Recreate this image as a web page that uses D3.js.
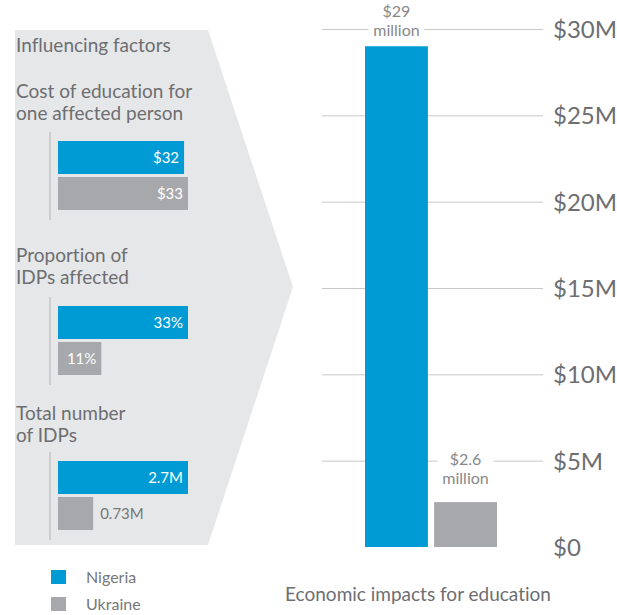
<!DOCTYPE html>
<html>
<head>
<meta charset="utf-8">
<script src="https://cdn.jsdelivr.net/npm/d3@7"></script>
<style>
  body { margin: 0; background: #fff; }
  text { font-family: Lato, "Open Sans", sans-serif; font-variant-ligatures: none; }
</style>
</head>
<body>
<div id="chart"></div>
<script>
// data
const countries = ["Nigeria", "Ukraine"];
const colors = ["#009bd4", "#a7a8ab"];

const factorTitles = [
    ["Cost of education for", "one affected person"],
    ["Proportion of", "IDPs affected"],
    ["Total number", "of IDPs"]
];
const factorValues = [
    [32, 33],
    [33, 11],
    [2.7, 0.73]
];
const factorLabels = [
    ["$32", "$33"],
    ["33%", "11%"],
    ["2.7M", "0.73M"]
];

const impactValues = [29, 2.6];          // millions USD
const impactLabels = [["$29", "million"], ["$2.6", "million"]];
const impactTicks = [0, 5, 10, 15, 20, 25, 30];

const width = 617, height = 615;
const textColor = "#6d6e71";

const svg = d3.select("#chart")
    .append("svg")
    .attr("width", width)
    .attr("height", height);

// grey arrow panel
svg.append("path")
    .attr("d", "M15,30 L208,30 L293,287 L208,545 L15,545 Z")
    .attr("fill", "#e6e7e8");

svg.append("text")
    .attr("x", 16).attr("y", 52)
    .attr("font-size", 19).attr("fill", textColor)
    .text("Influencing factors");

// each factor group: title top and bar top
const groupTop = [98, 262, 420];
const barsTop = [141, 306, 461];
const barH = 33, barGap = 3, barX = 58;

factorValues.forEach((vals, gi) => {
    const g = svg.append("g");

    g.selectAll("text.title")
        .data(factorTitles[gi])
        .enter()
        .append("text")
        .attr("class", "title")
        .attr("x", 16)
        .attr("y", (d, i) => groupTop[gi] + i * 22)
        .attr("font-size", 19)
        .attr("fill", textColor)
        .text(d => d);

    const x = d3.scaleLinear()
        .domain([0, d3.max(vals)])
        .range([0, 130]);

    const y = d3.scaleBand()
        .domain(countries)
        .range([barsTop[gi], barsTop[gi] + 2 * barH + barGap])
        .paddingInner(barGap / (barH + barGap));

    g.append("line")
        .attr("x1", 50).attr("x2", 50)
        .attr("y1", barsTop[gi] - 9)
        .attr("y2", barsTop[gi] + 2 * barH + barGap + 10)
        .attr("stroke", "#c4c5c7")
        .attr("stroke-width", 1.5);

    g.selectAll("rect")
        .data(vals)
        .enter()
        .append("rect")
        .attr("x", barX)
        .attr("y", (d, i) => y(countries[i]))
        .attr("width", d => x(d))
        .attr("height", y.bandwidth())
        .attr("fill", (d, i) => colors[i]);

    g.selectAll("text.val")
        .data(vals)
        .enter()
        .append("text")
        .attr("class", "val")
        .each(function(d, i) {
            const inside = x(d) > 40;
            d3.select(this)
                .attr("x", inside ? barX + x(d) - 5 : barX + x(d) + 7)
                .attr("text-anchor", inside ? "end" : "start")
                .attr("fill", inside ? "#fff" : "#777");
        })
        .attr("y", (d, i) => y(countries[i]) + y.bandwidth() / 2 + 5)
        .attr("font-size", 15)
        .text((d, i) => factorLabels[gi][i]);
});

// right bar chart
const yScale = d3.scaleLinear()
    .domain([0, 30])
    .range([547, 29]);

const xScale = d3.scaleBand()
    .domain(countries)
    .range([365, 497])
    .paddingInner(0.09);

const yAxis = svg.append("g")
    .attr("transform", "translate(543,0)")
    .call(d3.axisRight(yScale)
        .tickValues(impactTicks)
        .tickSize(-221)
        .tickPadding(10)
        .tickFormat(d => d === 0 ? "$0" : "$" + d + "M"));
yAxis.select(".domain").remove();
yAxis.selectAll(".tick line").attr("stroke", "#c8c8c8");
yAxis.selectAll(".tick").filter(d => d === 0).select("line").remove();
yAxis.selectAll(".tick text")
    .attr("font-family", "Lato, sans-serif")
    .attr("font-size", 24)
    .attr("fill", textColor)
    .attr("dy", "0.35em");

svg.selectAll("rect.impact")
    .data(impactValues)
    .enter()
    .append("rect")
    .attr("class", "impact")
    .attr("x", (d, i) => xScale(countries[i]))
    .attr("y", d => yScale(d))
    .attr("width", xScale.bandwidth())
    .attr("height", d => yScale(0) - yScale(d))
    .attr("fill", (d, i) => colors[i]);

// value labels with white boxes over grid lines
const labelY = [17, 465];
impactValues.forEach((v, i) => {
    const cx = xScale(countries[i]) + xScale.bandwidth() / 2;
    const lg = svg.append("g");
    lg.append("rect")
        .attr("x", cx - 28)
        .attr("y", labelY[i] - 14)
        .attr("width", 56)
        .attr("height", 38)
        .attr("fill", "#fff");
    lg.selectAll("text")
        .data(impactLabels[i])
        .enter()
        .append("text")
        .attr("x", cx)
        .attr("y", (d, j) => labelY[i] + j * 19)
        .attr("text-anchor", "middle")
        .attr("font-size", 16)
        .attr("fill", "#888")
        .text(d => d);
});

svg.append("text")
    .attr("x", 418).attr("y", 601)
    .attr("text-anchor", "middle")
    .attr("font-size", 19)
    .attr("fill", textColor)
    .text("Economic impacts for education");

// legend
const legend = svg.selectAll("g.legend")
    .data(countries)
    .enter()
    .append("g")
    .attr("class", "legend")
    .attr("transform", (d, i) => "translate(51," + (570 + i * 27) + ")");
legend.append("rect")
    .attr("width", 15).attr("height", 14)
    .attr("fill", (d, i) => colors[i]);
legend.append("text")
    .attr("x", 35).attr("y", 13)
    .attr("font-size", 16)
    .attr("fill", "#777")
    .text(d => d);
</script>
</body>
</html>
